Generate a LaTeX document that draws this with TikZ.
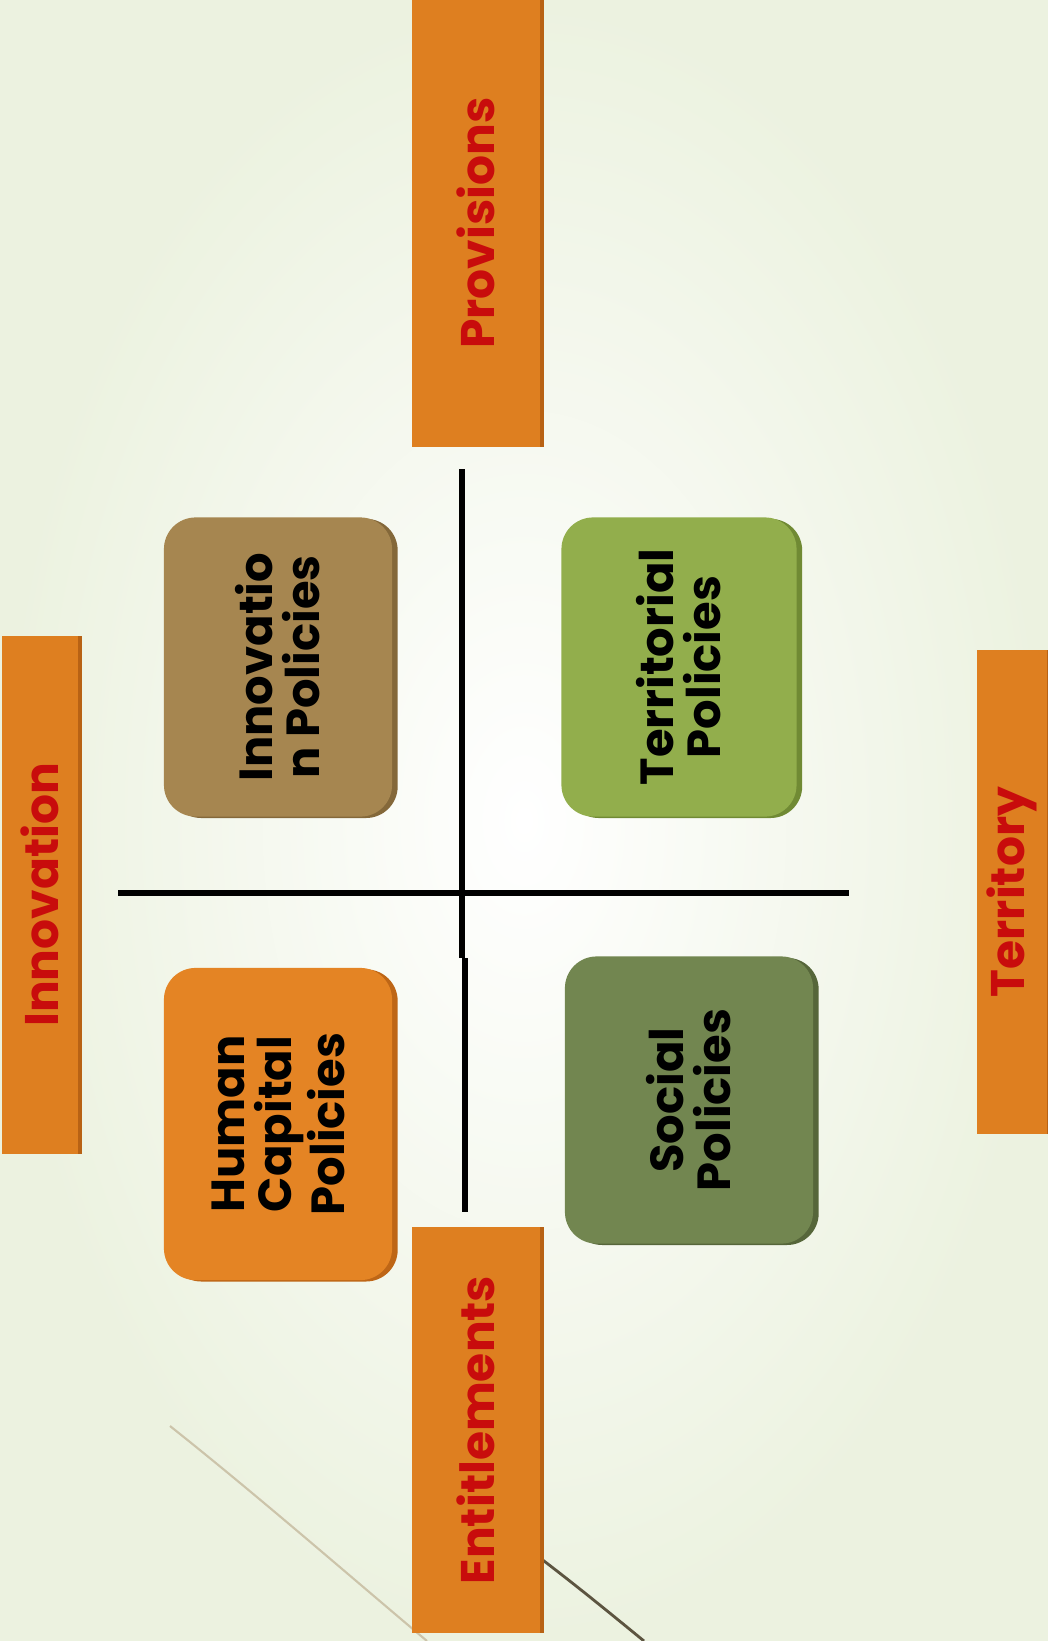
\documentclass[tikz,border=0pt]{standalone}
\usepackage{fontspec}
\setmainfont{Poppins}
\usetikzlibrary{positioning}
\definecolor{bgcolor}{RGB}{236,242,224}
\definecolor{tabcolor}{RGB}{222,127,32}
\definecolor{tabedge}{RGB}{184,98,20}
\definecolor{tabtext}{RGB}{200,12,12}
\definecolor{innocolor}{RGB}{166,134,80}
\definecolor{innoedge}{RGB}{132,104,58}
\definecolor{terrcolor}{RGB}{146,174,76}
\definecolor{terredge}{RGB}{112,138,52}
\definecolor{humancolor}{RGB}{228,132,36}
\definecolor{humanedge}{RGB}{190,102,22}
\definecolor{socialcolor}{RGB}{114,134,80}
\definecolor{socialedge}{RGB}{86,102,58}
\definecolor{curvelight}{RGB}{204,196,170}
\definecolor{curvedark}{RGB}{92,84,64}

\begin{document}
\begin{tikzpicture}[x=0.01cm, y=-0.01cm,
    tab/.style={fill=tabcolor, rotate=90, inner sep=0pt, minimum height=1.28cm, text=tabtext,
        font=\bfseries\fontsize{13.4}{14}\selectfont,
        preaction={fill=tabedge, transform canvas={xshift=1.2pt}}},
    policy/.style={rounded corners=9pt, rotate=90, inner sep=0pt, align=center,
        font=\bfseries\fontsize{13.2}{13.4}\selectfont},
    axis/.style={line width=1.8pt, black},
]
    % Background
    \shade[inner color=white, outer color=bgcolor] (0,0) rectangle (1048,1641);
    \useasboundingbox (0,0) rectangle (1048,1641);
    \draw[curvelight, line width=0.6pt] (170,1426) .. controls (258,1496) and (345,1572) .. (427,1641);
    \draw[curvedark, line width=0.8pt] (500,1528) .. controls (560,1572) and (600,1605) .. (644,1641);

    % Axis labels
    \node[tab, minimum width=4.47cm] (provisions) at (476,223) {Provisions};
    \node[tab, minimum width=4.06cm] (entitlements) at (476,1430) {Entitlements};
    \node[tab, minimum width=5.18cm, minimum height=0.76cm] (innovation) at (40,895) {Innovation};
    \node[tab, minimum width=4.83cm, minimum height=0.70cm] (territory) at (1012,892) {Territory};

    % Quadrant policies
    \node[policy, fill=innocolor, minimum width=2.99cm, minimum height=2.28cm,
        preaction={fill=innoedge, rounded corners=9pt, transform canvas={xshift=1.6pt, yshift=-0.4pt}}]
        (innopol) at (278,667) {Innovatio\\n Policies};
    \node[policy, fill=terrcolor, minimum width=2.99cm, minimum height=2.35cm,
        preaction={fill=terredge, rounded corners=9pt, transform canvas={xshift=1.6pt, yshift=-0.4pt}}]
        (terrpol) at (679,667) {Territorial\\Policies};
    \node[policy, fill=humancolor, minimum width=3.12cm, minimum height=2.28cm,
        preaction={fill=humanedge, rounded corners=9pt, transform canvas={xshift=1.6pt, yshift=-0.4pt}}]
        (humanpol) at (278,1124) {Human\\Capital\\Policies};
    \node[policy, fill=socialcolor, minimum width=2.87cm, minimum height=2.48cm,
        preaction={fill=socialedge, rounded corners=9pt, transform canvas={xshift=1.6pt, yshift=-0.4pt}}]
        (socialpol) at (689,1100) {Social\\Policies};

    % Axes
    \coordinate (vtop) at (462,469);
    \coordinate (vmid) at (462,958);
    \coordinate (vmid2) at (465,958);
    \coordinate (vbot) at (465,1212);
    \coordinate (hleft) at (118,893);
    \coordinate (hright) at (849,893);
    \draw[axis] (hleft) -- (hright);
    \draw[axis] (vtop) -- (vmid);
    \draw[axis] (vmid2) -- (vbot);
\end{tikzpicture}
\end{document}
